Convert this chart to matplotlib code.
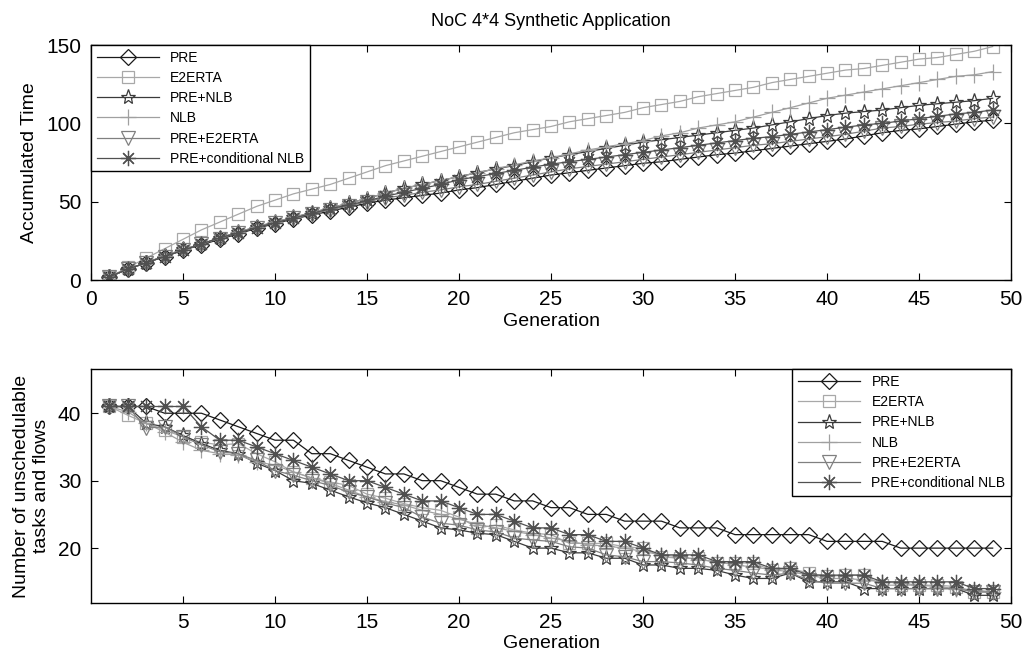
import matplotlib
matplotlib.use("Agg")
import matplotlib.pyplot as plt

plt.rcParams['font.family'] = ['Liberation Sans', 'DejaVu Sans']

gens = list(range(1, 50))

# --- accumulated time (top panel) ---
time_pre = [2, 7, 11, 15, 19, 22.5, 26, 29.5, 33, 36, 39, 41.5, 44, 46.5, 49, 51,
            52.5, 54, 55.5, 57.5, 59, 61, 63, 65, 67, 68.5, 70, 71.5, 73, 74.5,
            75.5, 77, 78.5, 80, 81, 82.5, 84, 85.5, 87, 88.5, 90, 92, 94, 95.5,
            96.5, 98, 99.5, 101, 102]
time_e2erta = [2, 8, 14, 20, 26, 32, 37, 42, 47, 51, 55, 58, 61, 65, 69, 73,
               76, 79, 82, 85, 88, 91, 94, 96, 98, 101, 103, 105, 107, 110,
               112, 114, 117, 119, 121, 123, 126, 128, 130, 132, 134, 135, 137, 139,
               141, 142, 144, 146, 149]
time_pre_nlb = [2, 7, 11, 15.5, 19.5, 23, 27, 30.5, 34, 37, 40, 43, 46, 49, 52, 55.5,
                58.5, 61, 63.5, 66, 68.5, 71, 73, 75.5, 78, 80, 82, 84, 86, 88,
                89.5, 91, 92.5, 94, 95.5, 97, 99, 101, 103, 105, 106.5, 107.5, 108.5, 110,
                111.5, 112.5, 113.5, 114.5, 116]
time_nlb = [2, 7, 11, 15.5, 19.5, 23, 27, 30.5, 34, 37, 40, 43, 46, 49, 52, 55.5,
            58.5, 61, 63.5, 66, 68.5, 71, 73.5, 76, 78, 80.5, 83, 85, 87, 89,
            92, 94, 97, 99, 101, 104, 107, 110, 113, 116, 118, 120, 122, 124,
            126, 128, 130, 131, 133]
time_pre_e2erta = [2, 7, 11, 15, 19, 23, 26.5, 30, 33.5, 36.5, 39.5, 42, 45, 47.5, 50, 52.5,
                   54, 56, 57.5, 59.5, 61, 63, 65, 67, 69, 71, 72.5, 74, 75.5, 77,
                   78.5, 80, 81.5, 83, 84.5, 86, 87, 88.5, 90, 91.5, 93, 95, 97, 98,
                   99.5, 100.5, 101.5, 103, 104]
time_pre_cnlb = [2, 7, 11, 15, 19, 23, 27, 30, 33.5, 36.5, 39.5, 42.5, 45.5, 48, 50.5, 53.5,
                 56, 58.5, 61, 64, 66, 68, 70, 72, 74, 75.5, 77, 78.5, 80, 81.5,
                 83, 84.5, 86, 87.5, 89, 90.5, 91.5, 93, 94.5, 96, 97.5, 99, 100, 101.5,
                 103, 104.5, 106, 107, 108.5]

# --- unschedulable tasks and flows (bottom panel) ---
uns_pre = [41, 41, 41, 40, 40, 40, 39, 38, 37, 36, 36, 34, 34, 33, 32, 31,
           31, 30, 30, 29, 28, 28, 27, 27, 26, 26, 25, 25, 24, 24,
           24, 23, 23, 23, 22, 22, 22, 22, 22, 21, 21, 21, 21, 20,
           20, 20, 20, 20, 20]
uns_e2erta = [41, 39.7, 38.5, 37.5, 36.5, 35.7, 35.3, 35.5, 34, 32.8, 31.3, 30.4, 29.8, 29.3, 28, 27.4,
              26.6, 26, 25.6, 24.6, 23, 23.4, 22.7, 22.2, 22, 20.7, 20.7, 20.7, 20.2, 20,
              18.7, 18.5, 18.5, 17.8, 17.8, 17.8, 16.7, 17, 16.3, 15.8, 16, 16, 14.5, 14.5,
              14.5, 14.5, 14.3, 13.5, 13.5]
uns_pre_nlb = [41, 41, 38.5, 38, 36.7, 35.5, 34.5, 34, 32.6, 31.5, 30, 29.6, 28.6, 27.6, 26.7, 26,
               25, 24, 23, 22.7, 22.2, 22, 21, 20, 20, 19.3, 19.3, 18.5, 18.5, 17.5,
               17.5, 17, 17, 16.7, 16, 15.5, 15.5, 16.3, 15, 15, 15, 14, 14, 14,
               14, 14, 14, 13, 13]
uns_nlb = [41, 40.2, 38.5, 37.2, 35.7, 34.5, 34, 33.8, 32.8, 32.3, 31.3, 30.4, 29.6, 28.6, 27.6, 26.9,
           26.4, 25.6, 25, 24.3, 23.5, 23, 22.5, 22, 21.5, 21, 20.5, 20.3, 20, 19.5,
           19, 18.7, 18.3, 18, 17.5, 17.2, 16.8, 16.5, 16, 15.5, 15.5, 15.3, 15, 14.8,
           14.5, 14.3, 14, 13.8, 13.5]
uns_pre_e2erta = [41, 41, 37.8, 38, 36.5, 35.3, 34.3, 34, 33, 31.5, 30.8, 30, 29.3, 28.3, 27.6, 26.7,
                  26, 24.6, 23.7, 23.4, 22.7, 22.4, 21.5, 21.2, 21, 20.2, 20, 19, 18.7, 18,
                  18, 17.8, 17.5, 17, 16.7, 16.3, 16, 16.3, 15.3, 14.8, 14.8, 14.8, 14, 14,
                  14, 14, 14, 13.5, 13.5]
uns_pre_cnlb = [41, 41, 41, 41, 41, 38, 36, 36, 35, 34, 33, 32, 31, 30, 30, 29,
                28, 27, 27, 26, 25, 25, 24, 23, 23, 22, 22, 21, 21, 20,
                19, 19, 19, 18, 18, 18, 17, 17, 16, 16, 16, 16, 15, 15,
                15, 15, 15, 14, 14]

labels = ["PRE", "E2ERTA", "PRE+NLB", "NLB", "PRE+E2ERTA", "PRE+conditional NLB"]
styles = [
    dict(color="#1a1a1a", marker="D", ms=8.5),
    dict(color="#a8a8a8", marker="s", ms=8),
    dict(color="#3a3a3a", marker="*", ms=11),
    dict(color="#a0a0a0", marker="+", ms=11),
    dict(color="#808080", marker="v", ms=10),
    dict(color="#505050", marker=(8, 2, 0), ms=11),
]

fig = plt.figure(figsize=(10.25, 6.62), dpi=100)
ax1 = fig.add_axes([0.0888, 0.577, 0.8976, 0.355])
ax2 = fig.add_axes([0.0888, 0.089, 0.8976, 0.353])

top_series = [time_pre, time_e2erta, time_pre_nlb, time_nlb, time_pre_e2erta, time_pre_cnlb]
bot_series = [uns_pre, uns_e2erta, uns_pre_nlb, uns_nlb, uns_pre_e2erta, uns_pre_cnlb]

for ax, series in [(ax1, top_series), (ax2, bot_series)]:
    for ys, lab, st in zip(series, labels, styles):
        ax.plot(gens, ys, label=lab, color=st["color"], marker=st["marker"],
                markersize=st["ms"], markerfacecolor="none", markeredgecolor=st["color"],
                markeredgewidth=0.9, linewidth=0.9)
    ax.tick_params(direction="in", top=True, right=True, labelsize=15, length=5, pad=7)
    for sp in ax.spines.values():
        sp.set_linewidth(1.0)

ax1.set_xlim(0, 50)
ax1.set_ylim(0, 150)
ax1.set_xticks(range(0, 51, 5))
ax1.set_yticks([0, 50, 100, 150])
ax1.set_xlabel("Generation", fontsize=14, labelpad=3)
ax1.set_ylabel("Accumulated Time", fontsize=14, labelpad=6)
ax1.set_title("NoC 4*4 Synthetic Application", fontsize=13, pad=14)
ax1.legend(loc="upper left", bbox_to_anchor=(0, 1), borderaxespad=0, fontsize=10,
           handlelength=4.5, fancybox=False, edgecolor="black", framealpha=1,
           labelspacing=0.45)

ax2.set_xlim(0, 50)
ax2.set_ylim(11.85, 46.5)
ax2.set_xticks(range(5, 51, 5))
ax2.set_yticks([20, 30, 40])
ax2.set_xlabel("Generation", fontsize=14, labelpad=2)
ax2.set_ylabel("Number of unschedulable\ntasks and flows", fontsize=14, labelpad=6)
ax2.legend(loc="upper right", bbox_to_anchor=(1, 1), borderaxespad=0, fontsize=10,
           handlelength=4.5, fancybox=False, edgecolor="black", framealpha=1,
           labelspacing=0.45)

fig.savefig("out.png", dpi=100)
